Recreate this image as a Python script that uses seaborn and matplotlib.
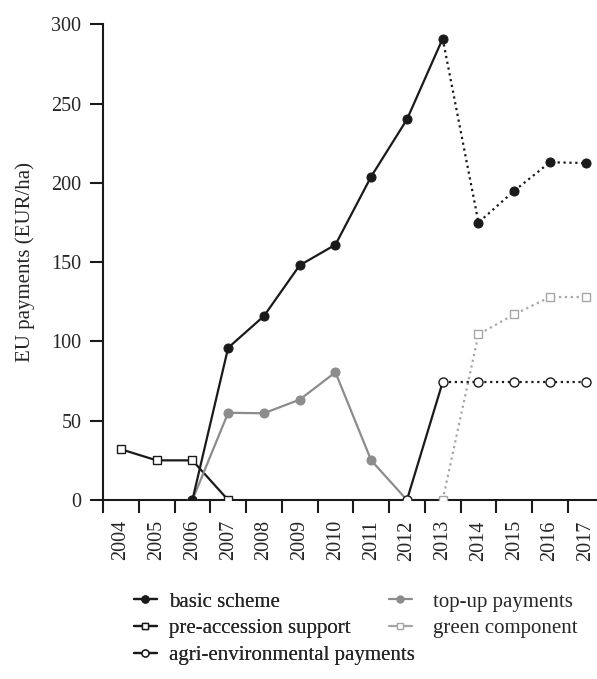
import matplotlib
matplotlib.use("Agg")
import matplotlib.pyplot as plt
import seaborn as sns
from matplotlib.lines import Line2D

years = list(range(2004, 2018))

# basic scheme: solid up to 2013, dotted afterwards
basic_years = [2006, 2007, 2008, 2009, 2010, 2011, 2012, 2013]
basic_vals = [0, 96, 116, 148, 161, 204, 240, 291]
basic_proj_years = [2013, 2014, 2015, 2016, 2017]
basic_proj_vals = [291, 175, 195, 213, 212.5]

topup_years = [2006, 2007, 2008, 2009, 2010, 2011, 2012]
topup_vals = [0, 55, 54.7, 63.3, 80.5, 25, 0]

preacc_years = [2004, 2005, 2006, 2007]
preacc_vals = [32, 25, 25, 0]

green_years = [2013, 2014, 2015, 2016, 2017]
green_vals = [0, 104.5, 117, 128, 128]

agri_years = [2012, 2013]
agri_vals = [0, 74.4]
agri_proj_years = [2013, 2014, 2015, 2016, 2017]
agri_proj_vals = [74.4, 74.4, 74.4, 74.4, 74.4]

black = "#1a1a1a"
gray = "#8c8c8c"
lightgray = "#a6a6a6"

sns.set_style("ticks")
plt.rcParams['font.family'] = ['Liberation Serif', 'DejaVu Serif']

fig = plt.figure(figsize=(5.97, 6.79), dpi=100)
ax = fig.add_axes([103 / 597, 179 / 679, 494 / 597, 475.7 / 679])

lw = 1.6
sns.lineplot(x=preacc_years, y=preacc_vals, ax=ax, color=black, lw=lw, marker='s', ms=6,
             markerfacecolor='white', markeredgecolor=black, markeredgewidth=1.0, zorder=3)
sns.lineplot(x=topup_years, y=topup_vals, ax=ax, color=gray, lw=lw, marker='o', ms=6.5,
             markerfacecolor=gray, markeredgecolor=gray, zorder=3)
sns.lineplot(x=green_years, y=green_vals, ax=ax, color=lightgray, lw=lw, linestyle=':', marker='s', ms=6,
             markerfacecolor='white', markeredgecolor=lightgray, markeredgewidth=1.0, zorder=3)
sns.lineplot(x=agri_years, y=agri_vals, ax=ax, color=black, lw=lw, zorder=4)
sns.lineplot(x=agri_proj_years, y=agri_proj_vals, ax=ax, color=black, lw=lw, linestyle=':', zorder=4)
sns.lineplot(x=agri_years + agri_proj_years[1:], y=agri_vals + agri_proj_vals[1:], ax=ax, lw=0,
             marker='o', ms=6.5, markerfacecolor='white', markeredgecolor=black, markeredgewidth=1.0, zorder=5)
sns.lineplot(x=basic_years, y=basic_vals, ax=ax, color=black, lw=lw, zorder=6)
sns.lineplot(x=basic_proj_years, y=basic_proj_vals, ax=ax, color=black, lw=lw, linestyle=':', zorder=6)
sns.lineplot(x=basic_years + basic_proj_years[1:], y=basic_vals + basic_proj_vals[1:], ax=ax, lw=0,
             marker='o', ms=6.5, markerfacecolor=black, markeredgecolor=black, zorder=7)

ax.set_ylim(0, 300)
ax.set_xlim(2003.5, 2017.315)
ax.set_yticks([0, 50, 100, 150, 200, 250, 300])
ax.set_xticks([y - 0.5 for y in years])
ax.set_xticklabels([])
ax.set_xticks(years, minor=True)
ax.set_xticklabels([str(y) for y in years], minor=True, rotation=90)
ax.tick_params(axis='x', which='major', length=9.5, width=1.5, direction='out', color=black)
ax.tick_params(axis='x', which='minor', length=0, labelsize=14.5, pad=14.5)
ax.tick_params(axis='y', length=9.5, width=1.5, labelsize=14.5, color=black, pad=6)
for s in ['top', 'right']:
    ax.spines[s].set_visible(False)
for s in ['left', 'bottom']:
    ax.spines[s].set_linewidth(1.5)
    ax.spines[s].set_color(black)
ax.set_ylabel('EU payments (EUR/ha)', fontsize=15, labelpad=12)
ax.set_xlabel('')

h_basic = Line2D([], [], color=black, lw=lw, marker='o', ms=5, markerfacecolor=black)
h_pre = Line2D([], [], color=black, lw=lw, marker='s', ms=5, markerfacecolor='white', markeredgewidth=1.0)
h_agri = Line2D([], [], color=black, lw=lw, marker='o', ms=5, markerfacecolor='white', markeredgewidth=1.0)
h_top = Line2D([], [], color=gray, lw=lw, marker='o', ms=5, markerfacecolor=gray, markeredgecolor=gray)
h_green = Line2D([], [], color=lightgray, lw=lw, marker='s', ms=5, markerfacecolor='white',
                 markeredgecolor=lightgray, markeredgewidth=1.0)

leg_kw = dict(loc='upper left', frameon=False, fontsize=15, handlelength=1.1, handletextpad=0.6,
              labelspacing=0.35, borderaxespad=0, borderpad=0)
leg1 = fig.legend([h_basic, h_pre, h_agri],
                  ['basic scheme', 'pre-accession support', 'agri-environmental payments'],
                  bbox_to_anchor=(134 / 597, 1 - 592 / 679), **leg_kw)
leg2 = fig.legend([h_top, h_green], ['top-up payments', 'green component'],
                  bbox_to_anchor=(389 / 597, 1 - 592 / 679), **dict(leg_kw, handletextpad=1.0))
fig.add_artist(leg1)

fig.savefig('out.png', dpi=100)
